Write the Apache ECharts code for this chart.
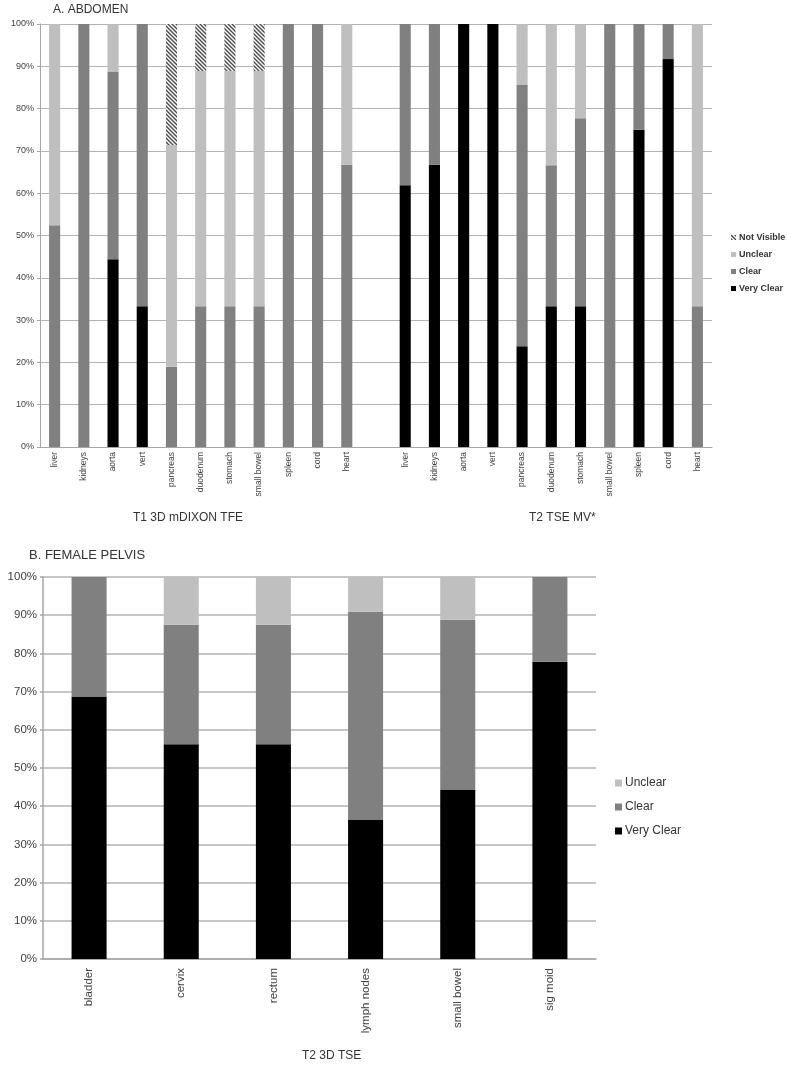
<!DOCTYPE html>
<html lang="en">
<head>
    <meta charset="UTF-8">
    <title>Abdomen / Female pelvis visibility</title>
    <style>
        html, body { margin: 0; padding: 0; background: #fff; }
    </style>
</head>
<body>
<div id="main" style="width: 787px;height:1065px;"></div>

<script src="https://cdn.jsdelivr.net/npm/echarts@6/dist/echarts.min.js"></script>

<script type="text/javascript">
    // A. abdomen - same organ list for both sequences
    var abdomenOrgans = ['liver', 'kidneys', 'aorta', 'vert', 'pancreas', 'duodenum', 'stomach', 'small bowel', 'spleen', 'cord', 'heart'];

    // T1 3D mDIXON TFE (percent)
    var t1VeryClear  = [0, 0, 44.4, 33.3, 0, 0, 0, 0, 0, 0, 0];
    var t1Clear      = [52.4, 100, 44.4, 66.7, 19.0, 33.3, 33.3, 33.3, 100, 100, 66.7];
    var t1Unclear    = [47.6, 0, 11.1, 0, 52.4, 55.6, 55.6, 55.6, 0, 0, 33.3];
    var t1NotVisible = [0, 0, 0, 0, 28.6, 11.1, 11.1, 11.1, 0, 0, 0];

    // T2 TSE MV* (percent)
    var t2VeryClear  = [61.9, 66.7, 100, 100, 23.8, 33.3, 33.3, 0, 75, 91.7, 0];
    var t2Clear      = [38.1, 33.3, 0, 0, 61.9, 33.3, 44.4, 100, 25, 8.3, 33.3];
    var t2Unclear    = [0, 0, 0, 0, 14.3, 33.3, 22.2, 0, 0, 0, 66.7];
    var t2NotVisible = [0, 0, 0, 0, 0, 0, 0, 0, 0, 0, 0];

    // B. female pelvis, T2 3D TSE (percent)
    var pelvisOrgans = ['bladder', 'cervix', 'rectum', 'lymph nodes', 'small bowel', 'sig moid'];
    var pelvisVeryClear = [68.75, 56.25, 56.25, 36.4, 44.4, 77.8];
    var pelvisClear     = [31.25, 31.25, 31.25, 54.5, 44.4, 22.2];
    var pelvisUnclear   = [0, 12.5, 12.5, 9.1, 11.2, 0];

    var yTicks = [0, 10, 20, 30, 40, 50, 60, 70, 80, 90, 100];

    // two groups with an empty slot between them
    function joinGroups(a, b) {
        return a.concat([null]).concat(b);
    }
    var abdomenCats = abdomenOrgans.concat(['']).concat(abdomenOrgans);

    // hatch pattern for "Not Visible"
    var hatch = document.createElement('canvas');
    hatch.width = 4;
    hatch.height = 4;
    var hc = hatch.getContext('2d');
    hc.fillStyle = '#ffffff';
    hc.fillRect(0, 0, 4, 4);
    hc.strokeStyle = '#4a4a4a';
    hc.lineWidth = 1.4;
    hc.beginPath();
    hc.moveTo(-1, -1); hc.lineTo(5, 5);
    hc.moveTo(-1, 3); hc.lineTo(1, 5);
    hc.moveTo(3, -1); hc.lineTo(5, 1);
    hc.stroke();
    var hatchColor = { image: hatch, repeat: 'repeat' };

    var colVeryClear = '#000000';
    var colClear = '#808080';
    var colUnclear = '#bfbfbf';

    var myChart = echarts.init(document.getElementById('main'), null, {renderer: 'canvas'});

    function yAxisCfg(gridIndex, fontSize, lineW) {
        return {
            type: 'value', gridIndex: gridIndex,
            min: yTicks[0], max: yTicks[yTicks.length - 1], interval: 10,
            axisLabel: { formatter: '{value}%', fontSize: fontSize, color: '#404040', margin: 6, fontFamily: 'Liberation Sans' },
            axisLine: { show: true, lineStyle: { color: '#a6a6a6', width: lineW } },
            axisTick: { show: true, length: 3, lineStyle: { color: '#a6a6a6', width: lineW } },
            splitLine: { lineStyle: { color: '#b3b3b3', width: lineW } }
        };
    }

    function barSeries(name, data, color, xi, yi, stack) {
        return {
            name: name, type: 'bar', stack: stack,
            xAxisIndex: xi, yAxisIndex: yi,
            barWidth: '38%',
            itemStyle: { color: color },
            emphasis: { disabled: true },
            data: data
        };
    }

    var option = {
        animation: false,
        backgroundColor: '#ffffff',
        textStyle: { fontFamily: 'Liberation Sans' },
        title: [
            { text: 'A. ABDOMEN', left: 48, top: -1, textStyle: { fontSize: 12, fontWeight: 'normal', color: '#333' } },
            { text: 'B. FEMALE PELVIS', left: 24, top: 544, textStyle: { fontSize: 13, fontWeight: 'normal', color: '#333' } }
        ],
        grid: [
            { left: 40, top: 24, right: 75, bottom: 618 },
            { left: 43, top: 577, right: 191, bottom: 106 }
        ],
        legend: [
            {
                orient: 'vertical', left: 726, top: 228,
                itemWidth: 5, itemHeight: 5, itemGap: 8,
                icon: 'rect',
                data: ['Not Visible', 'Unclear', 'Clear', 'Very Clear'],
                textStyle: { fontSize: 9, fontWeight: 'bold', color: '#333', padding: [0, 0, 0, -2] }
            },
            {
                orient: 'vertical', left: 610, top: 772,
                itemWidth: 7, itemHeight: 7, itemGap: 12,
                icon: 'rect',
                data: ['Unclear', 'Clear', 'Very Clear'],
                textStyle: { fontSize: 12, color: '#333', padding: [0, 0, 0, -2] }
            }
        ],
        xAxis: [
            {
                type: 'category', gridIndex: 0, data: abdomenCats,
                axisLine: { lineStyle: { color: '#a6a6a6' } },
                axisTick: { length: 4, lineStyle: { color: '#a6a6a6' } },
                axisLabel: { rotate: 90, fontSize: 8.5, color: '#404040', margin: 5, interval: 0 }
            },
            {
                type: 'category', gridIndex: 1, data: pelvisOrgans,
                axisLine: { lineStyle: { color: '#a6a6a6', width: 1.5 } },
                axisTick: { length: 5, lineStyle: { color: '#a6a6a6', width: 1.5 } },
                axisLabel: { rotate: 90, fontSize: 11.5, color: '#404040', margin: 9, interval: 0 }
            }
        ],
        yAxis: [yAxisCfg(0, 9, 1), yAxisCfg(1, 11.5, 1.5)],
        graphic: [
            { type: 'text', left: 133, top: 512, style: { text: 'T1 3D mDIXON TFE', fontSize: 12, fill: '#333', fontFamily: 'Liberation Sans' } },
            { type: 'text', left: 529, top: 512, style: { text: 'T2 TSE MV*', fontSize: 12, fill: '#333', fontFamily: 'Liberation Sans' } },
            { type: 'text', left: 302, top: 1050, style: { text: 'T2 3D TSE', fontSize: 12, fill: '#333', fontFamily: 'Liberation Sans' } }
        ],
        series: [
            barSeries('Very Clear', joinGroups(t1VeryClear, t2VeryClear), colVeryClear, 0, 0, 'a'),
            barSeries('Clear', joinGroups(t1Clear, t2Clear), colClear, 0, 0, 'a'),
            barSeries('Unclear', joinGroups(t1Unclear, t2Unclear), colUnclear, 0, 0, 'a'),
            barSeries('Not Visible', joinGroups(t1NotVisible, t2NotVisible), hatchColor, 0, 0, 'a'),
            barSeries('Very Clear', pelvisVeryClear, colVeryClear, 1, 1, 'b'),
            barSeries('Clear', pelvisClear, colClear, 1, 1, 'b'),
            barSeries('Unclear', pelvisUnclear, colUnclear, 1, 1, 'b')
        ]
    };
    myChart.setOption(option);
</script>
</body>
</html>
